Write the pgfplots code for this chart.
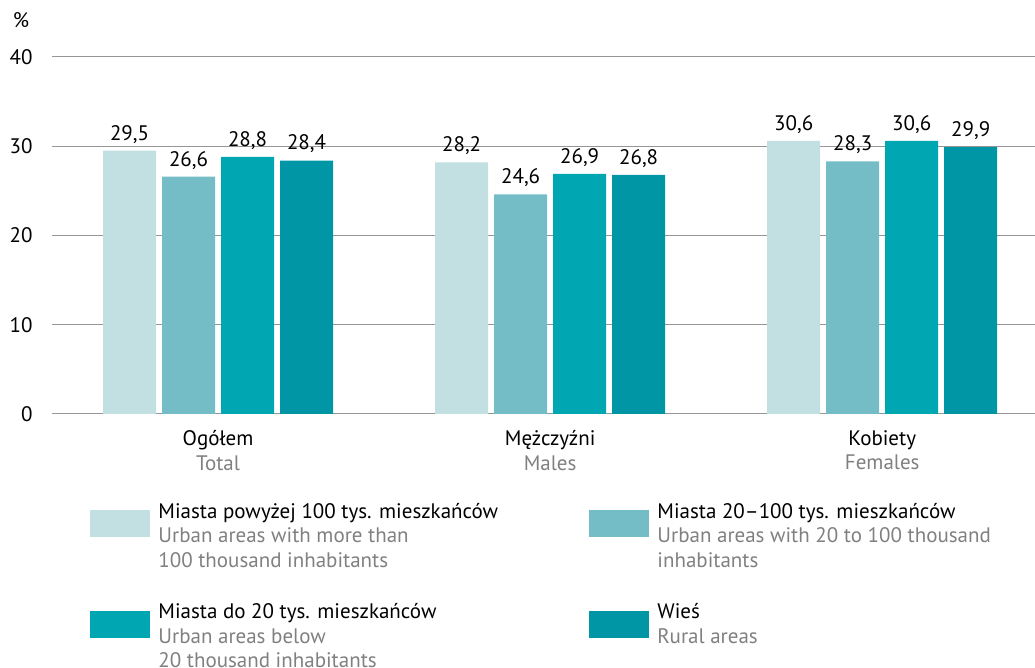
\documentclass[border=0pt]{standalone}
\usepackage{pgfplots}
\pgfplotsset{compat=1.18}
\usepackage{fontspec}
\setmainfont{PT Sans}
\definecolor{c1}{RGB}{194,223,226}
\definecolor{c2}{RGB}{116,189,198}
\definecolor{c3}{RGB}{0,167,178}
\definecolor{c4}{RGB}{0,150,166}
\definecolor{subgray}{RGB}{128,128,128}
\definecolor{gridgray}{RGB}{150,150,150}
\newcommand{\entry}[2]{\parbox[t]{200pt}{\raggedright #1\\\color{subgray}#2}}
\begin{document}
\fontsize{10.5}{12.25}\selectfont
\begin{tikzpicture}
\useasboundingbox (-26pt,-127pt) rectangle (491.5pt,207pt);
\begin{axis}[
    at={(0,0)}, anchor=south west,
    width=491.5pt, height=178.5pt, scale only axis,
    ybar=3pt, bar width=26.5pt,
    xmin=-0.5, xmax=2.46, ymin=0, ymax=40,
    ytick={0,10,20,30,40},
    xtick={0,1,2},
    xticklabels={{Ogółem\\\color{subgray}Total},{Mężczyźni\\\color{subgray}Males},{Kobiety\\\color{subgray}Females}},
    xticklabel style={align=center, yshift=-4.5pt},
    yticklabel style={xshift=-6pt},
    /pgf/number format/assume math mode=true,
    /pgf/number format/use comma,
    tick style={draw=none},
    major tick length=0pt,
    axis line style={draw=none},
    ymajorgrids, grid style={gridgray, line width=0.5pt},
    nodes near coords,
    nodes near coords style={text=black, /pgf/number format/.cd, fixed, fixed zerofill, precision=1, use comma},
    legend columns=2,
    legend image code/.code={\fill[#1] (0pt,-9.5pt) rectangle (30pt,4pt);},
    legend style={at={(rel axis cs:0.0387,-0.249)}, anchor=north west, draw=none, fill=none,
        inner sep=0pt, column sep=4pt, row sep=33pt,
        /tikz/every even column/.append style={column sep=15.5pt},
        nodes={anchor=base west, inner sep=0pt}},
    clip=false,
]
\addplot[fill=c1, draw=none] coordinates {(0,29.5) (1,28.2) (2,30.6)};
\addplot[fill=c2, draw=none] coordinates {(0,26.6) (1,24.6) (2,28.3)};
\addplot[fill=c3, draw=none] coordinates {(0,28.8) (1,26.9) (2,30.6)};
\addplot[fill=c4, draw=none] coordinates {(0,28.4) (1,26.8) (2,29.9)};
\addlegendentry{\entry{Miasta powyżej 100 tys. mieszkańców}{Urban areas with more than\\100 thousand inhabitants}}
\addlegendentry{\entry{Miasta 20–100 tys. mieszkańców}{Urban areas with 20 to 100 thousand\\inhabitants}}
\addlegendentry{\entry{Miasta do 20 tys. mieszkańców}{Urban areas below\\20 thousand inhabitants}}
\addlegendentry{\entry{Wieś}{Rural areas}}
\node at (rel axis cs:0,1) [xshift=-15.5pt, yshift=18.5pt] {\%};
\end{axis}
\end{tikzpicture}
\end{document}
